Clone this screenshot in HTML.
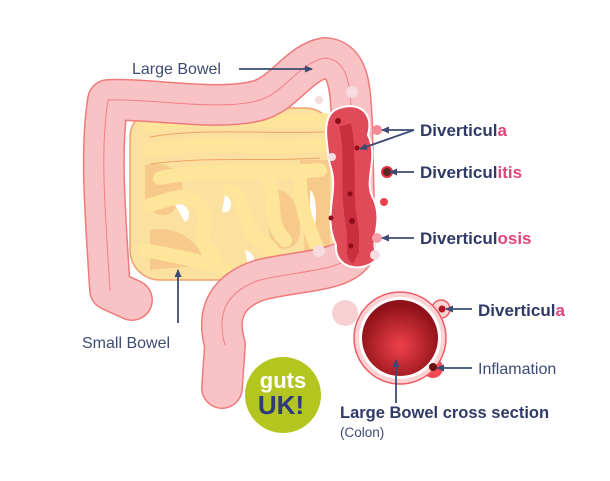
<!DOCTYPE html>
<html><head><meta charset="utf-8"><style>
html,body{margin:0;padding:0;background:#fff;}
svg{display:block}
text{font-family:"Liberation Sans",sans-serif;}
</style></head><body>
<svg width="610" height="481" viewBox="0 0 610 481" xmlns="http://www.w3.org/2000/svg">
<defs>
<radialGradient id="cs" cx="50%" cy="60%" r="55%"><stop offset="0" stop-color="#f0424a"/><stop offset="1" stop-color="#8e1018"/></radialGradient>
<marker id="ar" markerWidth="8" markerHeight="8" refX="7" refY="4" orient="auto" markerUnits="userSpaceOnUse"><path d="M0,0.5 L8,4 L0,7.5 z" fill="#3c4b73"/></marker>
</defs>
<!-- small bowel -->
<rect x="130" y="108" width="205" height="172" rx="30" fill="#fbe0a0" stroke="#f0a070" stroke-width="1.5"/>
<g fill="#f7c98a">
<path d="M145,165 C170,160 190,175 180,200 C170,225 150,215 145,200 z"/>
<path d="M150,230 C175,225 200,240 205,265 L150,270 z"/>
<path d="M265,190 C285,185 300,200 300,230 C300,250 280,255 270,240 z"/>
<path d="M300,160 L330,160 L330,260 L305,255 z"/>
</g>
<g fill="#fff">
<path d="M175,205 C185,200 195,215 185,222 z"/>
<path d="M225,195 C235,200 232,215 222,212 z"/>
<path d="M200,245 C215,245 220,260 205,262 z"/>
<path d="M245,250 C255,252 258,265 248,266 z"/>
<path d="M310,190 C318,195 318,230 310,240 z"/>
<path d="M250,165 C260,165 262,172 252,174 z"/>
</g>
<g fill="none" stroke="#fde59a" stroke-width="14" stroke-linecap="round" stroke-linejoin="round">
<path d="M150,125 C200,115 260,122 325,120 M150,150 C210,140 260,150 320,145 M160,178 C210,168 260,175 320,170"/>
<path d="M150,205 C170,200 185,190 200,205 C215,220 190,240 215,255 M230,190 C250,200 240,230 260,240 C280,250 270,265 300,262"/>
<path d="M145,250 C170,255 200,260 225,270 M265,175 C280,200 265,220 285,240 M300,180 C300,210 310,230 320,255"/>
</g>
<g fill="none" stroke="#f2a366" stroke-width="1">
<path d="M150,137 C200,128 260,134 325,132 M150,164 C210,156 260,162 320,158"/>
</g>
<!-- large bowel -->
<g fill="none" stroke-linecap="round" stroke-linejoin="round">
<path d="M108,100 C100,150 105,210 110,290 L132,300 M108,100 C150,98 220,112 260,100 C285,92 300,62 325,58 C350,60 350,90 352,120 L355,250 C345,272 300,270 260,280 C230,290 215,310 225,345 L222,388" stroke="#f07a7a" stroke-width="42"/>
<path d="M108,100 C100,150 105,210 110,290 L132,300 M108,100 C150,98 220,112 260,100 C285,92 300,62 325,58 C350,60 350,90 352,120 L355,250 C345,272 300,270 260,280 C230,290 215,310 225,345 L222,388" stroke="#f9c3c6" stroke-width="39"/>
<path d="M108,100 C100,150 105,210 110,290 M108,100 C150,98 220,112 260,100 C285,92 300,62 325,58 C350,60 350,90 352,120 L355,250 C345,272 300,270 260,280 C230,290 215,310 225,345" stroke="#f27f86" stroke-width="1"/>
</g>
<!-- descending diseased -->
<path d="M335,110 C355,100 375,110 368,135 C380,160 362,180 374,200 C384,225 368,240 378,258 C362,275 334,268 336,245 C322,215 340,190 330,165 C326,140 322,118 335,110 z" fill="#e14a58" stroke="#fff" stroke-width="2"/>
<path d="M345,125 C352,150 345,190 352,225 C355,245 350,255 356,258" fill="none" stroke="#c8303f" stroke-width="12"/>
<g fill="#8e0d18"><circle cx="338" cy="121" r="3"/><circle cx="357" cy="148" r="2.5"/><circle cx="350" cy="194" r="2.5"/><circle cx="352" cy="221" r="3"/><circle cx="351" cy="246" r="2.5"/><circle cx="331" cy="218" r="2.5"/></g>
<circle cx="377" cy="130" r="5" fill="#f28a96"/>
<circle cx="387" cy="172" r="6" fill="#e13040"/><circle cx="387" cy="172" r="4" fill="#5a2a22"/>
<circle cx="384" cy="202" r="4" fill="#e8404e"/>
<circle cx="377" cy="238" r="5" fill="#f4a0aa"/>
<circle cx="332" cy="157" r="4" fill="#f6dcde"/><circle cx="319" cy="251" r="6" fill="#f6dcde"/><circle cx="375" cy="255" r="5" fill="#f6dcde"/><circle cx="319" cy="100" r="4" fill="#f6dcde"/><circle cx="352" cy="92" r="6" fill="#f6dcde"/>
<!-- cross-section -->
<circle cx="345" cy="313" r="13" fill="#f7d0d2"/>
<circle cx="441" cy="309" r="9" fill="#fbd3d5" stroke="#f05a64" stroke-width="1.5"/>
<circle cx="433" cy="368" r="10" fill="#f44a55"/>
<circle cx="400" cy="338" r="46" fill="#fbd3d5" stroke="#f05a64" stroke-width="1.5"/>
<circle cx="400" cy="338" r="41" fill="#fff"/>
<circle cx="400" cy="338" r="38" fill="url(#cs)"/>
<circle cx="442" cy="309" r="3.5" fill="#b01820"/><circle cx="433" cy="367" r="4" fill="#6a1010"/>
<!-- logo -->
<circle cx="283" cy="395" r="38" fill="#b3c51f"/>
<text x="283" y="388" text-anchor="middle" font-size="22" font-weight="bold" fill="#fff">guts</text>
<text x="281" y="414" text-anchor="middle" font-size="26" font-weight="bold" fill="#2f3a79">UK!</text>
<!-- labels -->
<g fill="#3c4b73" font-size="16">
<text x="132" y="74">Large Bowel</text>
<text x="82" y="348">Small Bowel</text>
<text x="478" y="374">Inflamation</text>
<text x="340" y="437" font-size="13.5">(Colon)</text>
</g>
<g fill="#2f3a66" font-size="17" font-weight="bold">
<text x="420" y="136">Diverticul<tspan fill="#e0457b">a</tspan></text>
<text x="420" y="178">Diverticul<tspan fill="#e0457b">itis</tspan></text>
<text x="420" y="244">Diverticul<tspan fill="#e0457b">osis</tspan></text>
<text x="478" y="316">Diverticul<tspan fill="#e0457b">a</tspan></text>
<text x="340" y="418" font-size="16.5">Large Bowel cross section</text>
</g>
<g stroke="#3c4b73" stroke-width="1.8" marker-end="url(#ar)">
<line x1="239" y1="69" x2="312" y2="69"/>
<line x1="178" y1="323" x2="178" y2="270"/>
<line x1="414" y1="130" x2="382" y2="130"/>
<line x1="414" y1="130" x2="360" y2="149"/>
<line x1="414" y1="172" x2="390" y2="172"/>
<line x1="414" y1="238" x2="382" y2="238"/>
<line x1="472" y1="309" x2="446" y2="309"/>
<line x1="472" y1="368" x2="437" y2="368"/>
<line x1="396" y1="403" x2="396" y2="360"/>
</g>
</svg>
</body></html>
